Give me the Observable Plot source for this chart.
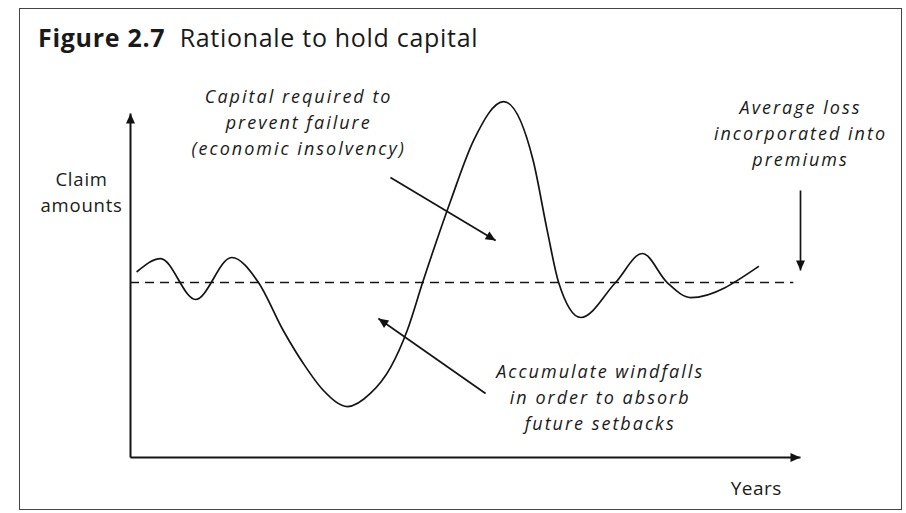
<!DOCTYPE html>
<html>
<head>
<meta charset="utf-8">
<script src="https://cdn.jsdelivr.net/npm/d3@7"></script>
<script src="https://cdn.jsdelivr.net/npm/@observablehq/plot@0.6"></script>
<style>
  html, body { margin: 0; padding: 0; background: #fff; }
  #wrap { position: relative; width: 906px; height: 513px; overflow: hidden; }
  #frame { position: absolute; left: 19px; top: 8px; width: 883px; height: 502px;
           border: 1.5px solid #444; box-sizing: border-box; }
  #title { position: absolute; left: 38px; top: 25px; font-family: "Open Sans", sans-serif;
           font-size: 25px; line-height: 25px; color: #1a1a1a; white-space: pre; letter-spacing: 0.7px; }
  #title b { font-weight: 700; }
  #chart { position: absolute; left: 0; top: 0; }
  g[font-style="italic"] text { letter-spacing: 2px; }
  g[font-size="18.5"] text { letter-spacing: 0.8px; }
  g[font-size="19"] text { letter-spacing: 0.5px; }
</style>
</head>
<body>
<div id="wrap">
  <div id="frame"></div>
  <div id="title"><b>Figure 2.7</b>  Rationale to hold capital</div>
  <div id="chart"></div>
</div>
<script>
// Conceptual data: years (x) vs claim amounts (y), average loss = 100
const years  = [0.10, 0.45, 0.97, 1.51, 1.91, 2.28, 2.58, 2.88, 3.24, 3.58, 3.88, 4.13, 4.36, 4.78, 5.12, 5.57, 6.01, 6.22, 6.39, 6.72, 7.24, 7.64, 8.01, 8.36, 9.37];
const claims = [106.3, 113.7, 90.3, 114.3, 100, 72.6, 53.7, 38.3, 29.1, 36.6, 51.4, 72.6, 100, 146.9, 181.1, 203.4, 169.7, 129.7, 100, 80, 100, 116.6, 100, 91.4, 109.1];
const averageLoss = 100;
const averageEnd = 9.9;

// Axis extents
const xAxisEnd = 10;
const yAxisEnd = 196.6;

// Annotation texts
const annoText = [
  "Capital required to\nprevent failure\n(economic insolvency)",
  "Average loss\nincorporated into\npremiums",
  "Accumulate windfalls\nin order to absorb\nfuture setbacks"
];
const annoX = [2.51, 10.0, 7.01];
const annoY = [192.3, 186.0, 35.1];

const yLabel = "Claim\namounts";
const xLabel = "Years";

// Annotation arrows [x1, y1, x2, y2]
const arrowX1 = [3.88, 5.30, 10.0];
const arrowY1 = [160, 36.6, 152.6];
const arrowX2 = [5.45, 3.70, 10.0];
const arrowY2 = [124, 79.4, 106.9];

const curve = years.map((x, i) => ({x, y: claims[i]}));
const arrows = arrowX1.map((x1, i) => ({x1, y1: arrowY1[i], x2: arrowX2[i], y2: arrowY2[i]}));
const annos = annoText.map((t, i) => ({t, x: annoX[i], y: annoY[i]}));

function tri(color, context) {
  const ns = "http://www.w3.org/2000/svg";
  const doc = (context && context.document) || document;
  const m = doc.createElementNS(ns, "marker");
  m.setAttribute("viewBox", "-11 -6 12 12");
  m.setAttribute("markerWidth", "12");
  m.setAttribute("markerHeight", "12");
  m.setAttribute("markerUnits", "userSpaceOnUse");
  m.setAttribute("orient", "auto");
  m.setAttribute("refX", "0");
  m.setAttribute("refY", "0");
  const p = doc.createElementNS(ns, "path");
  p.setAttribute("d", "M-10,-4.5L0,0L-10,4.5Z");
  p.setAttribute("fill", "#111");
  p.setAttribute("stroke", "none");
  m.appendChild(p);
  return m;
}

const ink = "#141414";

const chart = Plot.plot({
  width: 906,
  height: 513,
  marginLeft: 130,
  marginRight: 106,
  marginTop: 113,
  marginBottom: 56,
  x: {domain: [0, xAxisEnd], axis: null},
  y: {domain: [0, yAxisEnd], axis: null},
  style: {background: "transparent", overflow: "visible"},
  marks: [
    Plot.ruleY([averageLoss], {x1: 0, x2: averageEnd, stroke: ink, strokeWidth: 1.6, strokeDasharray: "9,6"}),
    Plot.link([{x1: 0, y1: 0, x2: 0, y2: yAxisEnd}], {x1: "x1", y1: "y1", x2: "x2", y2: "y2", stroke: ink, strokeWidth: 2, markerEnd: tri}),
    Plot.link([{x1: 0, y1: 0, x2: xAxisEnd, y2: 0}], {x1: "x1", y1: "y1", x2: "x2", y2: "y2", stroke: ink, strokeWidth: 2.2, markerEnd: tri}),
    Plot.line(curve, {x: "x", y: "y", curve: "monotone-x", stroke: ink, strokeWidth: 1.7}),
    Plot.link(arrows, {x1: "x1", y1: "y1", x2: "x2", y2: "y2", stroke: ink, strokeWidth: 1.7, markerEnd: tri}),
    Plot.text(annos, {x: "x", y: "y", text: "t", fontFamily: "Open Sans, sans-serif", fontStyle: "italic",
      fontSize: 18, lineHeight: 1.44, textAnchor: "middle", lineAnchor: "middle", fill: "#1a1a1a"}),
    Plot.text([yLabel], {x: -0.73, y: 152.6, text: d => d, fontFamily: "Open Sans, sans-serif", fontSize: 18.5,
      lineHeight: 1.4, textAnchor: "middle", lineAnchor: "middle", fill: "#1a1a1a"}),
    Plot.text([xLabel], {x: 9.34, y: -17.7, text: d => d, fontFamily: "Open Sans, sans-serif", fontSize: 19,
      textAnchor: "middle", lineAnchor: "middle", fill: "#1a1a1a"})
  ]
});
document.getElementById("chart").appendChild(chart);
</script>
</body>
</html>
